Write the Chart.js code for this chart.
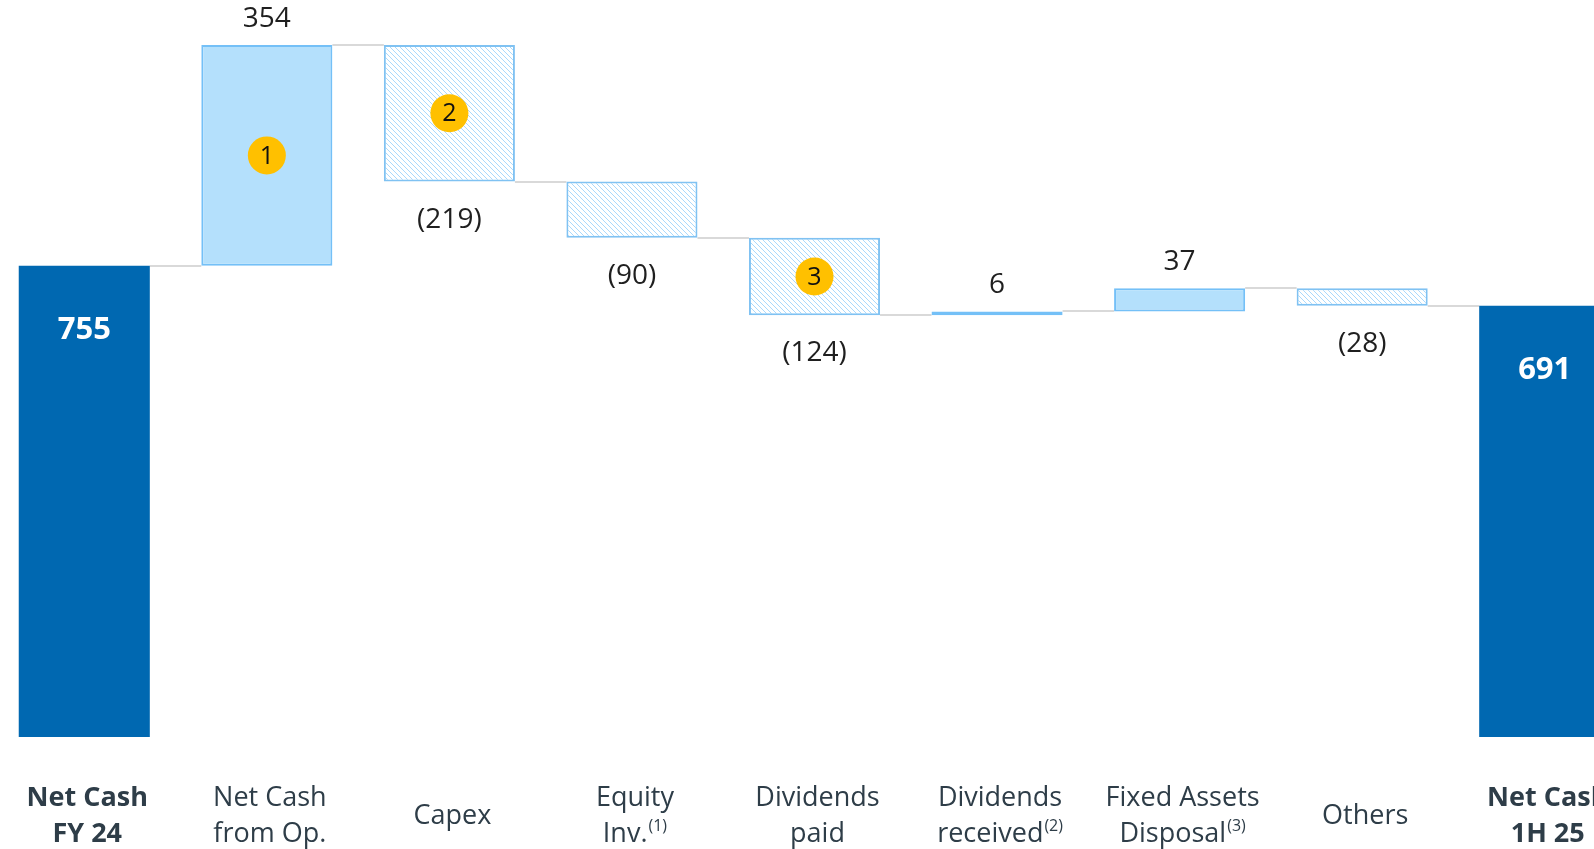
<!DOCTYPE html>
<html>
<head>
<meta charset="utf-8">
<script src="https://cdn.jsdelivr.net/npm/chart.js@4.4.1/dist/chart.umd.min.js"></script>
<style>
  html, body { margin: 0; padding: 0; background: #fff; overflow: hidden; }
  #wrap { position: absolute; left: -7px; top: 0; width: 1643px; height: 849px; }
</style>
</head>
<body>
<div id="wrap"><canvas id="myChart"></canvas></div>
<script>
/* Waterfall data */
const categories = [
    ['Net Cash', 'FY 24'],
    ['Net Cash', 'from Op.'],
    ['Capex'],
    ['Equity', 'Inv.'],
    ['Dividends', 'paid'],
    ['Dividends', 'received'],
    ['Fixed Assets', 'Disposal'],
    ['Others'],
    ['Net Cash', '1H 25']
];
const footnotes = ['', '', '', '(1)', '', '(2)', '(3)', '', ''];
const changes = [755, 354, -219, -90, -124, 6, 37, -28, 691];
const isTotal = [true, false, false, false, false, false, false, false, true];
const badges = ['', '1', '2', '', '3', '', '', '', ''];

// start / end of every floating bar
const ranges = [];
let running = 0;
changes.forEach((v, i) => {
    if (isTotal[i]) {
        ranges.push([0, v]);
        running = v;
    } else {
        ranges.push([running, running + v]);
        running += v;
    }
});

const FONT = "'Open Sans', 'Noto Sans', sans-serif";
const canvas = document.getElementById('myChart');

function makeHatch() {
    const c = document.createElement('canvas');
    c.width = 5; c.height = 5;
    const g = c.getContext('2d');
    g.fillStyle = '#ffffff';
    g.fillRect(0, 0, 5, 5);
    g.fillStyle = '#a9d9fc';
    for (let i = 0; i < 5; i++) g.fillRect(i, i, 1, 1);
    return canvas.getContext('2d').createPattern(c, 'repeat');
}
const hatch = makeHatch();

const fills = changes.map((v, i) => isTotal[i] ? '#0068b1' : (v > 0 ? '#b4e0fc' : hatch));
const borders = changes.map((v, i) => isTotal[i] ? '#0068b1' : (v > 0 ? '#74c0f7' : '#80c2f2'));

const waterfallDecor = {
    id: 'waterfallDecor',
    beforeDatasetsDraw(chart) {
        const ctx = chart.ctx;
        const meta = chart.getDatasetMeta(0);
        const y = chart.scales.y;
        ctx.save();
        ctx.strokeStyle = '#d9d9d9';
        ctx.lineWidth = 2;
        for (let i = 0; i < meta.data.length - 1; i++) {
            const a = meta.data[i], b = meta.data[i + 1];
            const level = Math.round(y.getPixelForValue(ranges[i][1]));
            ctx.beginPath();
            ctx.moveTo(a.x + a.width / 2, level);
            ctx.lineTo(b.x - b.width / 2, level);
            ctx.stroke();
        }
        ctx.restore();
    },
    afterDatasetsDraw(chart) {
        const ctx = chart.ctx;
        const meta = chart.getDatasetMeta(0);
        const bottom = chart.chartArea.bottom;
        ctx.save();
        ctx.textAlign = 'center';
        ctx.textBaseline = 'middle';
        meta.data.forEach((bar, i) => {
            const top = Math.min(bar.y, bar.base);
            const bot = Math.max(bar.y, bar.base);
            const v = changes[i];

            // value labels
            if (isTotal[i]) {
                ctx.fillStyle = '#ffffff';
                ctx.font = 'bold 31px ' + FONT;
                ctx.fillText(String(v), bar.x, top + 64);
            } else {
                ctx.fillStyle = '#1f1f1f';
                ctx.font = '28px ' + FONT;
                if (v > 0) ctx.fillText(String(v), bar.x, top - 26);
                else ctx.fillText('(' + (-v) + ')', bar.x, bot + 38);
            }

            // numbered badges
            if (badges[i]) {
                const cy = (top + bot) / 2;
                ctx.beginPath();
                ctx.arc(bar.x, cy, 19, 0, Math.PI * 2);
                ctx.fillStyle = '#ffc000';
                ctx.fill();
                ctx.fillStyle = '#111111';
                ctx.font = '25px ' + FONT;
                ctx.fillText(badges[i], bar.x, cy + 1);
            }

            // category labels
            const lines = categories[i];
            const mainFont = (isTotal[i] ? 'bold ' : '') + '27px ' + FONT;
            const supFont = '16px ' + FONT;
            const ys = lines.length === 2 ? [bottom + 61, bottom + 97] : [bottom + 79];
            const cx = bar.x + 3;
            ctx.fillStyle = '#2e3d48';
            lines.forEach((txt, k) => {
                const note = (k === lines.length - 1) ? footnotes[i] : '';
                ctx.font = mainFont;
                const w1 = ctx.measureText(txt).width;
                let w2 = 0;
                if (note) { ctx.font = supFont; w2 = ctx.measureText(note).width + 1; }
                const x0 = cx - (w1 + w2) / 2;
                ctx.textAlign = 'left';
                ctx.font = mainFont;
                ctx.fillText(txt, x0, ys[k]);
                if (note) {
                    ctx.font = supFont;
                    ctx.fillText(note, x0 + w1 + 1, ys[k] - 8);
                }
                ctx.textAlign = 'center';
            });
        });
        ctx.restore();
    }
};

new Chart(canvas, {
    type: 'bar',
    data: {
        labels: categories,
        datasets: [{
            data: ranges,
            backgroundColor: fills,
            borderColor: borders,
            borderWidth: changes.map((v, i) => isTotal[i] ? 0 : 2),
            borderSkipped: false,
            barPercentage: 0.718,
            categoryPercentage: 1
        }]
    },
    options: {
        responsive: true,
        maintainAspectRatio: false,
        animation: false,
        layout: { padding: { top: 0, bottom: 112, left: 0, right: 0 } },
        scales: {
            x: { display: false },
            y: { display: false, min: 0, max: 1181 }
        },
        plugins: {
            legend: { display: false },
            tooltip: { enabled: false }
        }
    },
    plugins: [waterfallDecor]
});
</script>
</body>
</html>
